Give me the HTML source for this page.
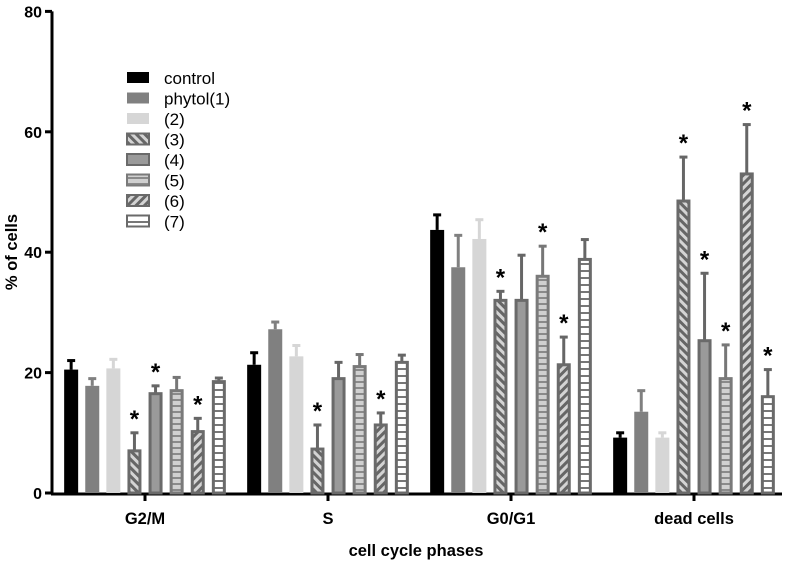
<!DOCTYPE html>
<html><head><meta charset="utf-8"><style>
body{margin:0;background:#fff;}
svg text{font-family:"Liberation Sans",Arial,sans-serif;}
</style></head><body>
<svg id="chart" width="786" height="560" xmlns="http://www.w3.org/2000/svg">
<defs>
<pattern id="p3" width="6" height="6" patternUnits="userSpaceOnUse" patternTransform="rotate(-45)"><rect width="6" height="6" fill="#d4d4d4"/><rect width="3" height="6" fill="#666"/></pattern>
<pattern id="p5" width="6" height="6" patternUnits="userSpaceOnUse"><rect width="6" height="6" fill="#d0d0d0"/><rect y="3" width="6" height="2" fill="#8a8a8a"/></pattern>
<pattern id="p6" width="6" height="6" patternUnits="userSpaceOnUse" patternTransform="rotate(45)"><rect width="6" height="6" fill="#d4d4d4"/><rect width="3" height="6" fill="#666"/></pattern>
<pattern id="p7" width="6" height="7" patternUnits="userSpaceOnUse"><rect width="6" height="7" fill="#fff"/><rect y="4" width="6" height="2" fill="#777"/></pattern>
</defs>
<g id="plot"></g>
</svg>
<script>
const categories=["G2/M","S","G0/G1","dead cells"];
const seriesNames=["control","phytol(1)","(2)","(3)","(4)","(5)","(6)","(7)"];
const vControl=[20.5,21.3,43.7,9.2];
const vPhytol=[17.8,27.2,37.5,13.5];
const v2=[20.7,22.7,42.2,9.2];
const v3=[7,7.3,32,48.5];
const v4=[16.5,19,32,25.3];
const v5=[17,21,36,19];
const v6=[10.2,11.3,21.3,53];
const v7=[18.5,21.7,38.8,16];
const eControl=[1.5,2,2.5,0.8];
const ePhytol=[1.2,1.2,5.3,3.5];
const e2=[1.5,1.8,3.2,0.8];
const e3=[3,4,1.5,7.3];
const e4=[1.3,2.7,7.5,11.2];
const e5=[2.2,2,5,5.6];
const e6=[2.2,2,4.6,8.2];
const e7=[0.6,1.2,3.3,4.5];
const sig3=[1,1,1,1];
const sig4=[1,0,0,1];
const sig5=[0,0,1,1];
const sig6=[1,1,1,1];
const sig7=[0,0,0,1];
const yTicks=[0,20,40,60,80];
const values=[vControl,vPhytol,v2,v3,v4,v5,v6,v7];
const errs=[eControl,ePhytol,e2,e3,e4,e5,e6,e7];
const sigs=[null,null,null,sig3,sig4,sig5,sig6,sig7];
const fills=["#000","#808080","#d6d6d6","url(#p3)","#9a9a9a","url(#p5)","url(#p6)","url(#p7)"];
const strokes=["#000","#808080","#d6d6d6","#6a6a6a","#6a6a6a","#7a7a7a","#6a6a6a","#6a6a6a"];
const errCol=["#000","#808080","#d6d6d6","#666","#666","#777","#666","#666"];
const y=v=>493-v*6.02;
const x0=52, groupX=i=>145+i*183, barX=(g,s)=>groupX(g)+(s-3.5)*21.1;
const NS="http://www.w3.org/2000/svg";
const g=document.getElementById('plot');
function el(t,a,txt){const e=document.createElementNS(NS,t);for(const k in a)e.setAttribute(k,a[k]);if(txt!=null)e.textContent=txt;g.appendChild(e);return e;}
let ax=el('line',{x1:x0,y1:y(0),x2:x0,y2:y(80),stroke:'#000','stroke-width':3});


let bx=el('line',{x1:x0-1,y1:y(0)+1,x2:782,y2:y(0)+1,stroke:'#000','stroke-width':3});


yTicks.forEach(t=>{
 el('line',{x1:x0-7,y1:y(t),x2:x0,y2:y(t),stroke:'#000','stroke-width':3});
 const tl=el('text',{x:x0-10,y:y(t)+6,'text-anchor':'end','font-size':16,'font-weight':'bold'},t);
 
 
});
categories.forEach((c,i)=>{
 el('line',{x1:groupX(i),y1:y(0),x2:groupX(i),y2:y(0)+8,stroke:'#000','stroke-width':3});
 const tl=el('text',{x:groupX(i),y:524,'text-anchor':'middle','font-size':16.5,'font-weight':'bold'},c);
 
 
});
const yt=el('text',{x:0,y:0,'text-anchor':'middle','font-size':16.5,'font-weight':'bold',transform:'translate(17,252) rotate(-90)'},'% of cells');


const xt=el('text',{x:416,y:556,'text-anchor':'middle','font-size':16.5,'font-weight':'bold'},'cell cycle phases');


values.forEach((arr,s)=>{
 arr.forEach((v,gi)=>{
  const cx=barX(gi,s), top=y(v), et=y(v+errs[s][gi]);
  const w=s<3?14:11;
  const e1=el('line',{x1:cx,y1:top,x2:cx,y2:et,stroke:errCol[s],'stroke-width':3});
  
  
  el('line',{x1:cx-4,y1:et,x2:cx+4,y2:et,stroke:errCol[s],'stroke-width':3});
  const r=el('rect',{x:cx-w/2,y:top,width:w,height:y(0)-top,fill:fills[s],stroke:s<3?'none':strokes[s],'stroke-width':3});
  
  
  if(sigs[s]&&sigs[s][gi]){
   const st=el('text',{x:cx,y:et-6,'text-anchor':'middle','font-size':24,'font-weight':'bold'},'*');
   
   
  }
 });
});
seriesNames.forEach((n,s)=>{
 const ly=78+s*20.5;
 const lr=el('rect',{x:127,y:ly-6,width:22,height:11,fill:fills[s],stroke:s<3?'none':strokes[s],'stroke-width':2});
 
 
 const lt=el('text',{x:164,y:ly+6,'font-size':17},n);
 
 
});
</script>
</body></html>
